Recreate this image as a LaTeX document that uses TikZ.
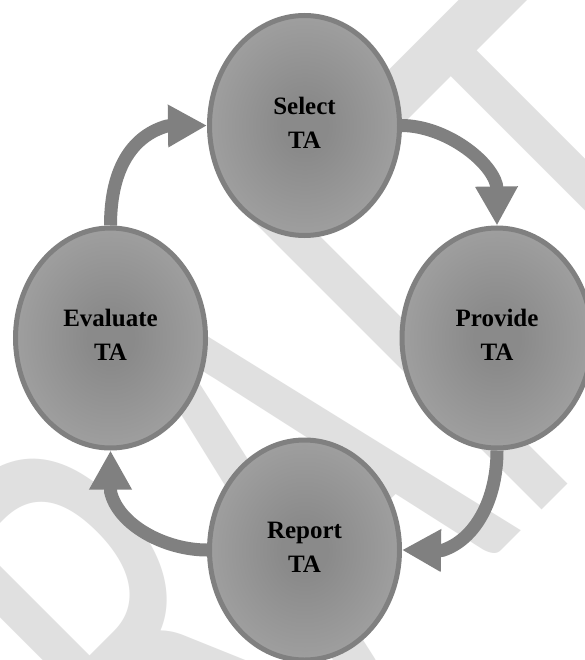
\documentclass[tikz,border=0pt]{standalone}
\usepackage{fontspec}
\setmainfont{Liberation Serif}
\newfontfamily\wmfont[Kerning=Off]{Carlito}
\usetikzlibrary{arrows.meta,shapes.geometric}
\definecolor{bordergray}{RGB}{128,128,128}
\definecolor{arrowgray}{RGB}{128,128,128}
\definecolor{wmgray}{RGB}{224,224,224}
\definecolor{fillin}{RGB}{138,138,138}
\definecolor{fillout}{RGB}{186,186,186}
\pgfdeclareradialshading{ellshade}{\pgfpoint{0bp}{0bp}}{color(0bp)=(fillin); color(6bp)=(fillin); color(50bp)=(fillout)}
\begin{document}
\begin{tikzpicture}[x=1pt,y=-1pt,
  ell/.style={ellipse, draw=bordergray, line width=5pt, shade, shading=ellshade,
    minimum width=190pt, minimum height=220pt, inner sep=0pt},
  lbl/.style={align=center, font=\bfseries\fontsize{25pt}{34pt}\selectfont, inner sep=0pt, text=black},
  cyc/.style={draw=arrowgray, line width=13pt, line join=round,
    -{Triangle[length=39pt,width=40pt]}},
]
\useasboundingbox (0,0) rectangle (585,660);
\fill[white] (0,0) rectangle (585,660);
% watermark
\node[anchor=base west, rotate=45, inner sep=0pt, text=wmgray] (wm) at (18.4,1033.8)
  {\scalebox{0.628}[1]{\wmfont\fontsize{653pt}{653pt}\selectfont DRAFT}};
% ellipses
\node[ell] (sel)  at (304.5,125.5) {};
\node[ell] (prov) at (497,338) {};
\node[ell] (rep)  at (304.5,550) {};
\node[ell] (eva)  at (110.5,338) {};
% labels
\node[lbl] (selT)  at ([yshift=3pt]sel.center)  {Select\\TA};
\node[lbl] (provT) at ([yshift=3pt]prov.center) {Provide\\TA};
\node[lbl] (repT)  at ([yshift=3pt]rep.center)  {Report\\TA};
\node[lbl] (evaT)  at ([yshift=3pt]eva.center)  {Evaluate\\TA};
% cycle arrows
\draw[cyc] (sel.east) .. controls (445,126) and (490,160) .. (496.5,185) -- (prov.north);
\draw[cyc] (prov.south) .. controls (497,500) and (475,540) .. (442,550.5) -- (rep.east);
\draw[cyc] (rep.west) .. controls (165,550) and (118,525) .. (110.5,491.5) -- (eva.south);
\draw[cyc] (eva.north) .. controls (110.5,165) and (135,135) .. (167,126) -- (sel.west);
\end{tikzpicture}
\end{document}
